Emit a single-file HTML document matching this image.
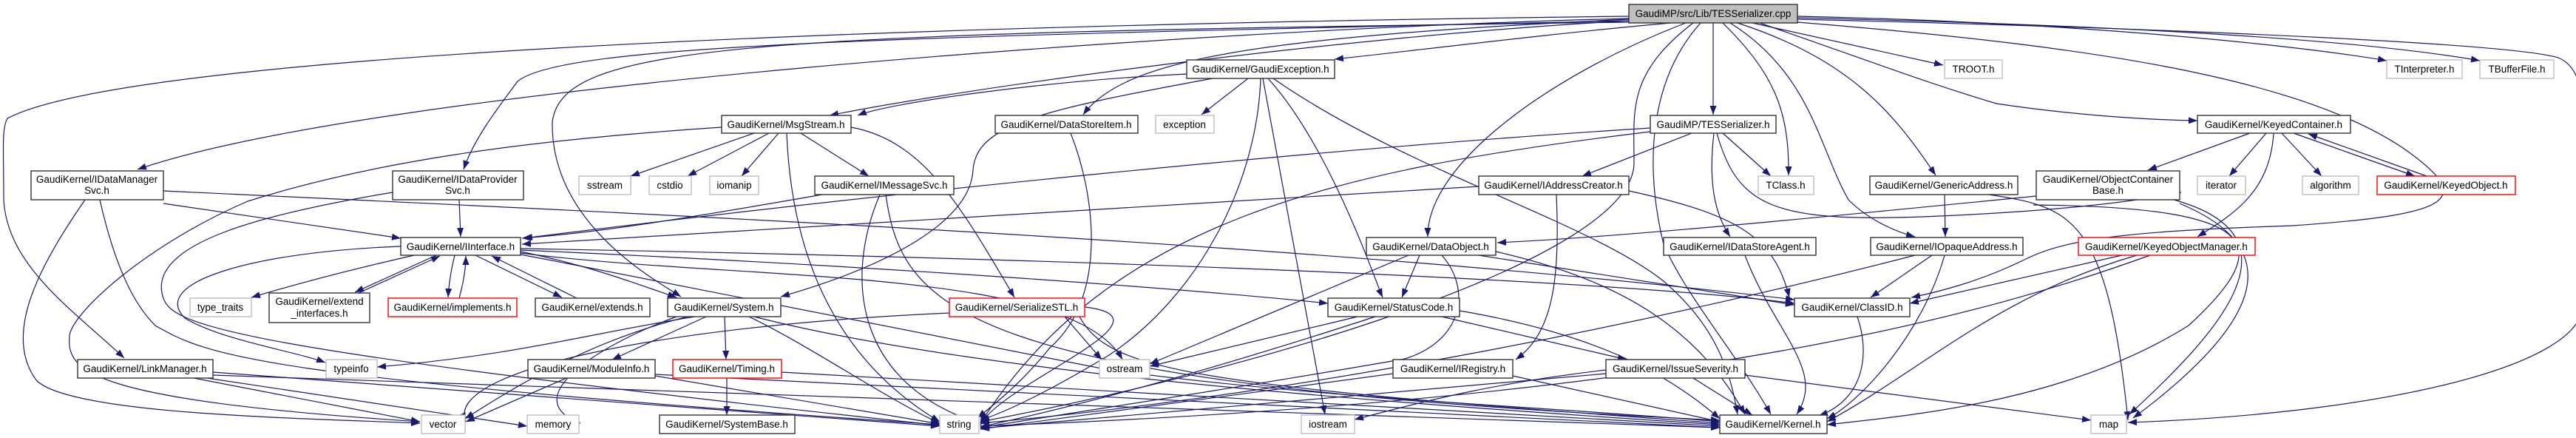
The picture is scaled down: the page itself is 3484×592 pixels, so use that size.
<!DOCTYPE html>
<html><head><meta charset="utf-8"><style>
html,body{margin:0;padding:0;background:#fff;}
svg{display:block;}
text{font-family:"Liberation Sans",sans-serif;font-size:13.5px;fill:#000;}
.e{fill:none;stroke:#191970;stroke-width:1.2;marker-end:url(#a);}
.b{fill:#fff;stroke:#333;stroke-width:1.4;}
.g{fill:#fff;stroke:#bfbfbf;stroke-width:1.4;}
.r{fill:#fff;stroke:#ff0000;stroke-width:1.4;}
</style></head><body>
<svg width="3484" height="592" viewBox="0 0 3484 592" xmlns="http://www.w3.org/2000/svg">
<defs><marker id="a" markerUnits="userSpaceOnUse" markerWidth="12" markerHeight="9" refX="12" refY="4.5" orient="auto"><path d="M0,0 L12,4.5 L0,9 z" fill="#191970"/></marker></defs>
<g>
<!-- root edges -->
<path class="e" d="M2203,22 C1500,30 200,60 10,160 C2,175 5,200 5,270 C10,360 100,420 168,484"/>
<path class="e" d="M2203,25 C1600,40 500,120 186,229"/>
<path class="e" d="M2203,28 C1200,50 760,60 700,110 C670,150 640,190 627,229"/>
<path class="e" d="M2203,30 C1000,45 760,60 747,165 C745,300 880,375 921,401"/>
<path class="e" d="M2203,28 C1800,50 1300,120 1122,156"/>
<path class="e" d="M2203,26 C1700,50 1520,80 1465,155"/>
<path class="e" d="M2260,31 C2100,45 1900,70 1805,80"/>
<path class="e" d="M2280,31 C2100,100 1930,220 1931,320"/>
<path class="e" d="M2317,31 L2317,155"/>
<path class="e" d="M2330,31 C2400,100 2420,150 2419,237"/>
<path class="e" d="M2340,31 C2450,100 2460,200 2500,270 C2530,300 2570,315 2590,320"/>
<path class="e" d="M2350,31 C2500,80 2560,150 2618,237"/>
<path class="e" d="M2370,31 L2628,88"/>
<path class="e" d="M2380,31 C2550,90 2600,110 2700,140 C2800,155 2900,162 2972,163"/>
<path class="e" d="M2431,22 C2800,30 3100,60 3228,82"/>
<path class="e" d="M2431,24 C2900,35 3200,55 3354,82"/>
<path class="e" d="M2431,26 C3000,40 3400,60 3460,78 C3490,90 3494,130 3494,170 L3494,410 C3494,500 3200,560 2878,571"/>
<path class="e" d="M2431,30 C2800,60 3100,100 3250,200 C3350,270 3320,290 3100,305 C2900,312 2800,320 2740,350 C2680,380 2620,395 2585,402"/>
<path class="e" d="M2290,31 C2200,100 2210,150 2210,220 C2210,350 1700,500 1326,570"/>
<path class="e" d="M2300,31 C2220,120 2230,250 2250,330 C2280,400 2350,480 2395,560"/>
<!-- GaudiException -->
<path class="e" d="M1640,106 C1400,150 1320,170 1316,230 C1312,300 1200,360 1056,401"/>
<path class="e" d="M1605,100 C1400,110 1200,140 1160,156"/>
<path class="e" d="M1688,106 L1625,155"/>
<path class="e" d="M1705,106 C1700,250 1620,400 1500,480 C1400,540 1350,560 1326,568"/>
<path class="e" d="M1708,106 L1792,560"/>
<path class="e" d="M1715,106 C1800,200 1860,380 1870,402"/>
<path class="e" d="M1722,106 C1900,230 2150,300 2250,380 C2320,440 2340,500 2350,560"/>
<!-- MsgStream -->
<path class="e" d="M976,172 C700,190 500,220 335,272 C200,330 100,420 94,453 C90,500 110,540 568,570"/>
<path class="e" d="M1020,180 L853,238"/>
<path class="e" d="M1040,180 L930,238"/>
<path class="e" d="M1053,180 L1003,238"/>
<path class="e" d="M1083,180 L1175,238"/>
<path class="e" d="M1064,180 C1070,330 1120,480 1271,570"/>
<path class="e" d="M1151,172 C1250,190 1300,280 1372,402"/>
<!-- IMessageSvc -->
<path class="e" d="M1112,263 C900,300 800,315 706,322"/>
<path class="e" d="M1190,263 C1140,380 1160,520 1324,572"/>
<path class="e" d="M1198,263 C1220,420 1300,520 2326,568"/>
<!-- IDataManagerSvc -->
<path class="e" d="M221,275 L542,322"/>
<path class="e" d="M221,258 C900,290 1800,330 2427,405"/>
<path class="e" d="M115,270 C60,350 0,450 50,515 C100,560 400,565 568,572"/>
<path class="e" d="M135,270 C160,380 190,420 210,440 C280,480 340,510 1271,574"/>
<!-- IDataProviderSvc -->
<path class="e" d="M621,270 L623,320"/>
<path class="e" d="M531,260 C350,290 200,330 220,400 C230,440 300,470 1271,575"/>
<!-- IInterface -->
<path class="e" d="M560,345 C450,370 380,390 340,402"/>
<path class="e" d="M590,345 L480,395"/>
<path class="e" d="M485,396 L595,346"/>
<path class="e" d="M615,345 C610,365 607,385 606,402"/>
<path class="e" d="M621,403 C626,385 630,365 630,346"/>
<path class="e" d="M643,345 L760,402"/>
<path class="e" d="M780,403 L665,346"/>
<path class="e" d="M542,333 C350,340 200,380 250,430 C300,460 400,475 440,490"/>
<path class="e" d="M704,340 C800,360 850,380 915,402"/>
<path class="e" d="M704,338 C1200,360 1600,390 1796,410"/>
<path class="e" d="M704,336 C1500,350 2200,380 2427,410"/>
<path class="e" d="M704,342 C1000,380 1450,360 1518,486"/>
<path class="e" d="M704,344 C1000,400 1300,460 1500,500 C1800,540 2100,550 2326,570"/>
<!-- LinkManager -->
<path class="e" d="M262,511 L568,570"/>
<path class="e" d="M288,503 L1271,576"/>
<path class="e" d="M288,507 L2326,578"/>
<path class="e" d="M280,511 L713,576"/>
<!-- System -->
<path class="e" d="M940,428 C800,450 700,480 510,496"/>
<path class="e" d="M930,428 C800,460 700,520 629,566"/>
<path class="e" d="M955,428 L828,486"/>
<path class="e" d="M980,428 L982,486"/>
<path class="e" d="M1013,428 C1100,470 1200,540 1271,572"/>
<path class="e" d="M1020,428 C1300,500 1800,540 2326,574"/>
<path class="e" d="M915,428 C800,470 700,540 785,572"/>
<!-- Timing/ModuleInfo -->
<path class="e" d="M983,511 L983,561"/>
<path class="e" d="M1057,503 L2326,576"/>
<path class="e" d="M766,511 L630,570"/>
<path class="e" d="M886,508 L1271,573"/>
<path class="e" d="M886,506 L2326,578"/>
<!-- DataStoreItem -->
<path class="e" d="M1448,180 C1480,260 1500,400 1420,470 C1380,520 1340,550 1322,565"/>
<!-- SerializeSTL -->
<path class="e" d="M1284,423 C900,440 600,500 630,570"/>
<path class="e" d="M1440,428 L1490,486"/>
<path class="e" d="M1460,428 C1500,500 1600,520 2326,572"/>
<path class="e" d="M1467,415 C1600,430 1350,520 1326,575"/>
<!-- DataObject -->
<path class="e" d="M1920,345 L1896,402"/>
<path class="e" d="M1905,345 L1555,492"/>
<path class="e" d="M2000,345 L2427,412"/>
<path class="e" d="M1950,345 C1990,390 1980,460 1900,485 C1700,520 1500,550 1326,578"/>
<path class="e" d="M2023,340 C2200,380 2300,450 2360,560"/>
<!-- StatusCode -->
<path class="e" d="M1836,428 L1555,495"/>
<path class="e" d="M1950,428 L2200,486"/>
<path class="e" d="M1860,428 C1700,480 1500,540 1326,577"/>
<path class="e" d="M1974,420 C2150,450 2250,500 2326,566"/>
<!-- IssueSeverity -->
<path class="e" d="M2290,511 L2370,561"/>
<path class="e" d="M2172,500 C2000,520 1900,550 1832,567"/>
<path class="e" d="M2172,505 L1326,579"/>
<path class="e" d="M2360,507 L2828,568"/>
<!-- IRegistry -->
<path class="e" d="M1884,505 L1326,580"/>
<path class="e" d="M2046,508 L2326,570"/>
<!-- TESSerializer.h -->
<path class="e" d="M2288,180 L2140,238"/>
<path class="e" d="M2330,180 L2395,238"/>
<path class="e" d="M2318,180 C2310,250 2320,290 2340,320"/>
<path class="e" d="M2232,173 C1800,200 1200,260 708,322"/>
<path class="e" d="M2232,178 C1800,230 1500,300 1326,572"/>
<path class="e" d="M2322,180 C2350,280 2400,300 2600,293 C2800,285 2900,270 2950,260"/>
<!-- IAddressCreator -->
<path class="e" d="M2000,252 L706,330"/>
<path class="e" d="M2203,258 C2350,290 2400,320 2420,402"/>
<path class="e" d="M2105,263 C2110,380 2100,450 2050,486"/>
<!-- GenericAddress / IOpaque / IDataStoreAgent / ClassID -->
<path class="e" d="M2630,263 L2631,320"/>
<path class="e" d="M2690,263 C2800,280 2850,290 2878,568"/>
<path class="e" d="M2613,345 L2530,402"/>
<path class="e" d="M2590,345 C2300,420 1800,530 1326,572"/>
<path class="e" d="M2630,345 C2600,450 2520,540 2471,566"/>
<path class="e" d="M2360,345 C2400,450 2470,500 2430,560"/>
<path class="e" d="M2512,428 C2530,480 2520,540 2460,562"/>
<!-- KeyedContainer -->
<path class="e" d="M3043,180 L2905,230"/>
<path class="e" d="M3065,180 L3015,238"/>
<path class="e" d="M3086,180 L3140,238"/>
<path class="e" d="M3102,180 L3266,238"/>
<path class="e" d="M3282,238 L3122,181"/>
<path class="e" d="M3075,180 C3070,260 3020,290 2972,320"/>
<!-- KeyedObjectManager -->
<path class="e" d="M2870,345 L2583,410"/>
<path class="e" d="M2890,345 C2700,400 2600,500 2471,570"/>
<path class="e" d="M2908,345 C2700,420 2300,540 1326,576"/>
<!-- ObjectContainerBase -->
<path class="e" d="M2754,265 C2500,290 2200,320 2025,328"/>
<path class="e" d="M2940,270 C3120,320 3000,450 2880,560"/>
<path class="e" d="M2948,275 C3080,330 3080,420 2885,565"/>
<path class="e" d="M2750,277 C3060,280 3080,330 2960,440 C2800,540 2600,560 2471,574"/>
</g>
<g>
<rect class="b" x="2203" y="6" width="228" height="25" style="fill:#bfbfbf"/><text x="2317" y="23" text-anchor="middle">GaudiMP/src/Lib/TESSerializer.cpp</text>
<rect class="b" x="42" y="231" width="179" height="39"/><text x="131" y="247" text-anchor="middle">GaudiKernel/IDataManager</text><text x="131" y="262" text-anchor="middle">Svc.h</text>
<rect class="b" x="531" y="231" width="177" height="39"/><text x="619" y="247" text-anchor="middle">GaudiKernel/IDataProvider</text><text x="619" y="262" text-anchor="middle">Svc.h</text>
<rect class="b" x="542" y="321" width="162" height="24"/><text x="623" y="338" text-anchor="middle">GaudiKernel/IInterface.h</text>
<rect class="g" x="257" y="403" width="83" height="25"/><text x="298" y="420" text-anchor="middle">type_traits</text>
<rect class="b" x="364" y="396" width="136" height="40"/><text x="432" y="412" text-anchor="middle">GaudiKernel/extend</text><text x="432" y="428" text-anchor="middle">_interfaces.h</text>
<rect class="r" x="525" y="403" width="174" height="25"/><text x="612" y="420" text-anchor="middle">GaudiKernel/implements.h</text>
<rect class="b" x="105" y="486" width="183" height="25"/><text x="196" y="503" text-anchor="middle">GaudiKernel/LinkManager.h</text>
<rect class="g" x="441" y="486" width="69" height="25"/><text x="475" y="503" text-anchor="middle">typeinfo</text>
<rect class="g" x="570" y="561" width="59" height="25"/><text x="599" y="578" text-anchor="middle">vector</text>
<rect class="b" x="976" y="156" width="175" height="24"/><text x="1063" y="173" text-anchor="middle">GaudiKernel/MsgStream.h</text>
<rect class="g" x="783" y="238" width="70" height="25"/><text x="818" y="255" text-anchor="middle">sstream</text>
<rect class="g" x="878" y="238" width="57" height="25"/><text x="906" y="255" text-anchor="middle">cstdio</text>
<rect class="g" x="960" y="238" width="66" height="25"/><text x="993" y="255" text-anchor="middle">iomanip</text>
<rect class="b" x="1102" y="238" width="188" height="25"/><text x="1196" y="255" text-anchor="middle">GaudiKernel/IMessageSvc.h</text>
<rect class="b" x="724" y="403" width="155" height="25"/><text x="801" y="420" text-anchor="middle">GaudiKernel/extends.h</text>
<rect class="b" x="903" y="403" width="153" height="25"/><text x="979" y="420" text-anchor="middle">GaudiKernel/System.h</text>
<rect class="r" x="1284" y="403" width="183" height="25"/><text x="1375" y="420" text-anchor="middle">GaudiKernel/SerializeSTL.h</text>
<rect class="b" x="714" y="486" width="172" height="25"/><text x="800" y="503" text-anchor="middle">GaudiKernel/ModuleInfo.h</text>
<rect class="r" x="910" y="486" width="147" height="25"/><text x="983" y="503" text-anchor="middle">GaudiKernel/Timing.h</text>
<rect class="g" x="713" y="561" width="70" height="25"/><text x="748" y="578" text-anchor="middle">memory</text>
<rect class="b" x="892" y="561" width="183" height="25"/><text x="983" y="578" text-anchor="middle">GaudiKernel/SystemBase.h</text>
<rect class="g" x="1271" y="561" width="53" height="25"/><text x="1297" y="578" text-anchor="middle">string</text>
<rect class="b" x="1346" y="156" width="193" height="24"/><text x="1442" y="173" text-anchor="middle">GaudiKernel/DataStoreItem.h</text>
<rect class="b" x="1605" y="81" width="200" height="25"/><text x="1705" y="98" text-anchor="middle">GaudiKernel/GaudiException.h</text>
<rect class="g" x="1563" y="156" width="79" height="24"/><text x="1602" y="173" text-anchor="middle">exception</text>
<rect class="b" x="1848" y="321" width="175" height="24"/><text x="1935" y="338" text-anchor="middle">GaudiKernel/DataObject.h</text>
<rect class="b" x="1796" y="403" width="178" height="25"/><text x="1885" y="420" text-anchor="middle">GaudiKernel/StatusCode.h</text>
<rect class="g" x="1487" y="486" width="68" height="25"/><text x="1521" y="503" text-anchor="middle">ostream</text>
<rect class="b" x="1884" y="486" width="162" height="25"/><text x="1965" y="503" text-anchor="middle">GaudiKernel/IRegistry.h</text>
<rect class="g" x="1760" y="561" width="72" height="25"/><text x="1796" y="578" text-anchor="middle">iostream</text>
<rect class="b" x="2000" y="238" width="203" height="25"/><text x="2101" y="255" text-anchor="middle">GaudiKernel/IAddressCreator.h</text>
<rect class="b" x="2232" y="156" width="170" height="24"/><text x="2317" y="173" text-anchor="middle">GaudiMP/TESSerializer.h</text>
<rect class="g" x="2378" y="238" width="75" height="25"/><text x="2415" y="255" text-anchor="middle">TClass.h</text>
<rect class="b" x="2529" y="238" width="200" height="25"/><text x="2629" y="255" text-anchor="middle">GaudiKernel/GenericAddress.h</text>
<rect class="g" x="2630" y="81" width="78" height="25"/><text x="2669" y="98" text-anchor="middle">TROOT.h</text>
<rect class="b" x="2250" y="321" width="206" height="24"/><text x="2353" y="338" text-anchor="middle">GaudiKernel/IDataStoreAgent.h</text>
<rect class="b" x="2530" y="321" width="206" height="24"/><text x="2633" y="338" text-anchor="middle">GaudiKernel/IOpaqueAddress.h</text>
<rect class="b" x="2427" y="403" width="156" height="25"/><text x="2505" y="420" text-anchor="middle">GaudiKernel/ClassID.h</text>
<rect class="b" x="2172" y="486" width="188" height="25"/><text x="2266" y="503" text-anchor="middle">GaudiKernel/IssueSeverity.h</text>
<rect class="b" x="2326" y="561" width="145" height="25"/><text x="2398" y="578" text-anchor="middle">GaudiKernel/Kernel.h</text>
<rect class="b" x="2754" y="231" width="194" height="39"/><text x="2851" y="247" text-anchor="middle">GaudiKernel/ObjectContainer</text><text x="2851" y="262" text-anchor="middle">Base.h</text>
<rect class="g" x="3228" y="81" width="102" height="25"/><text x="3279" y="98" text-anchor="middle">TInterpreter.h</text>
<rect class="g" x="3354" y="81" width="100" height="25"/><text x="3404" y="98" text-anchor="middle">TBufferFile.h</text>
<rect class="b" x="2972" y="156" width="207" height="24"/><text x="3075" y="173" text-anchor="middle">GaudiKernel/KeyedContainer.h</text>
<rect class="g" x="2972" y="238" width="65" height="25"/><text x="3004" y="255" text-anchor="middle">iterator</text>
<rect class="g" x="3114" y="238" width="76" height="25"/><text x="3152" y="255" text-anchor="middle">algorithm</text>
<rect class="r" x="3215" y="238" width="187" height="25"/><text x="3308" y="255" text-anchor="middle">GaudiKernel/KeyedObject.h</text>
<rect class="r" x="2811" y="321" width="239" height="24"/><text x="2930" y="338" text-anchor="middle">GaudiKernel/KeyedObjectManager.h</text>
<rect class="g" x="2828" y="561" width="48" height="25"/><text x="2852" y="578" text-anchor="middle">map</text>
</g>
</svg>
</body></html>
